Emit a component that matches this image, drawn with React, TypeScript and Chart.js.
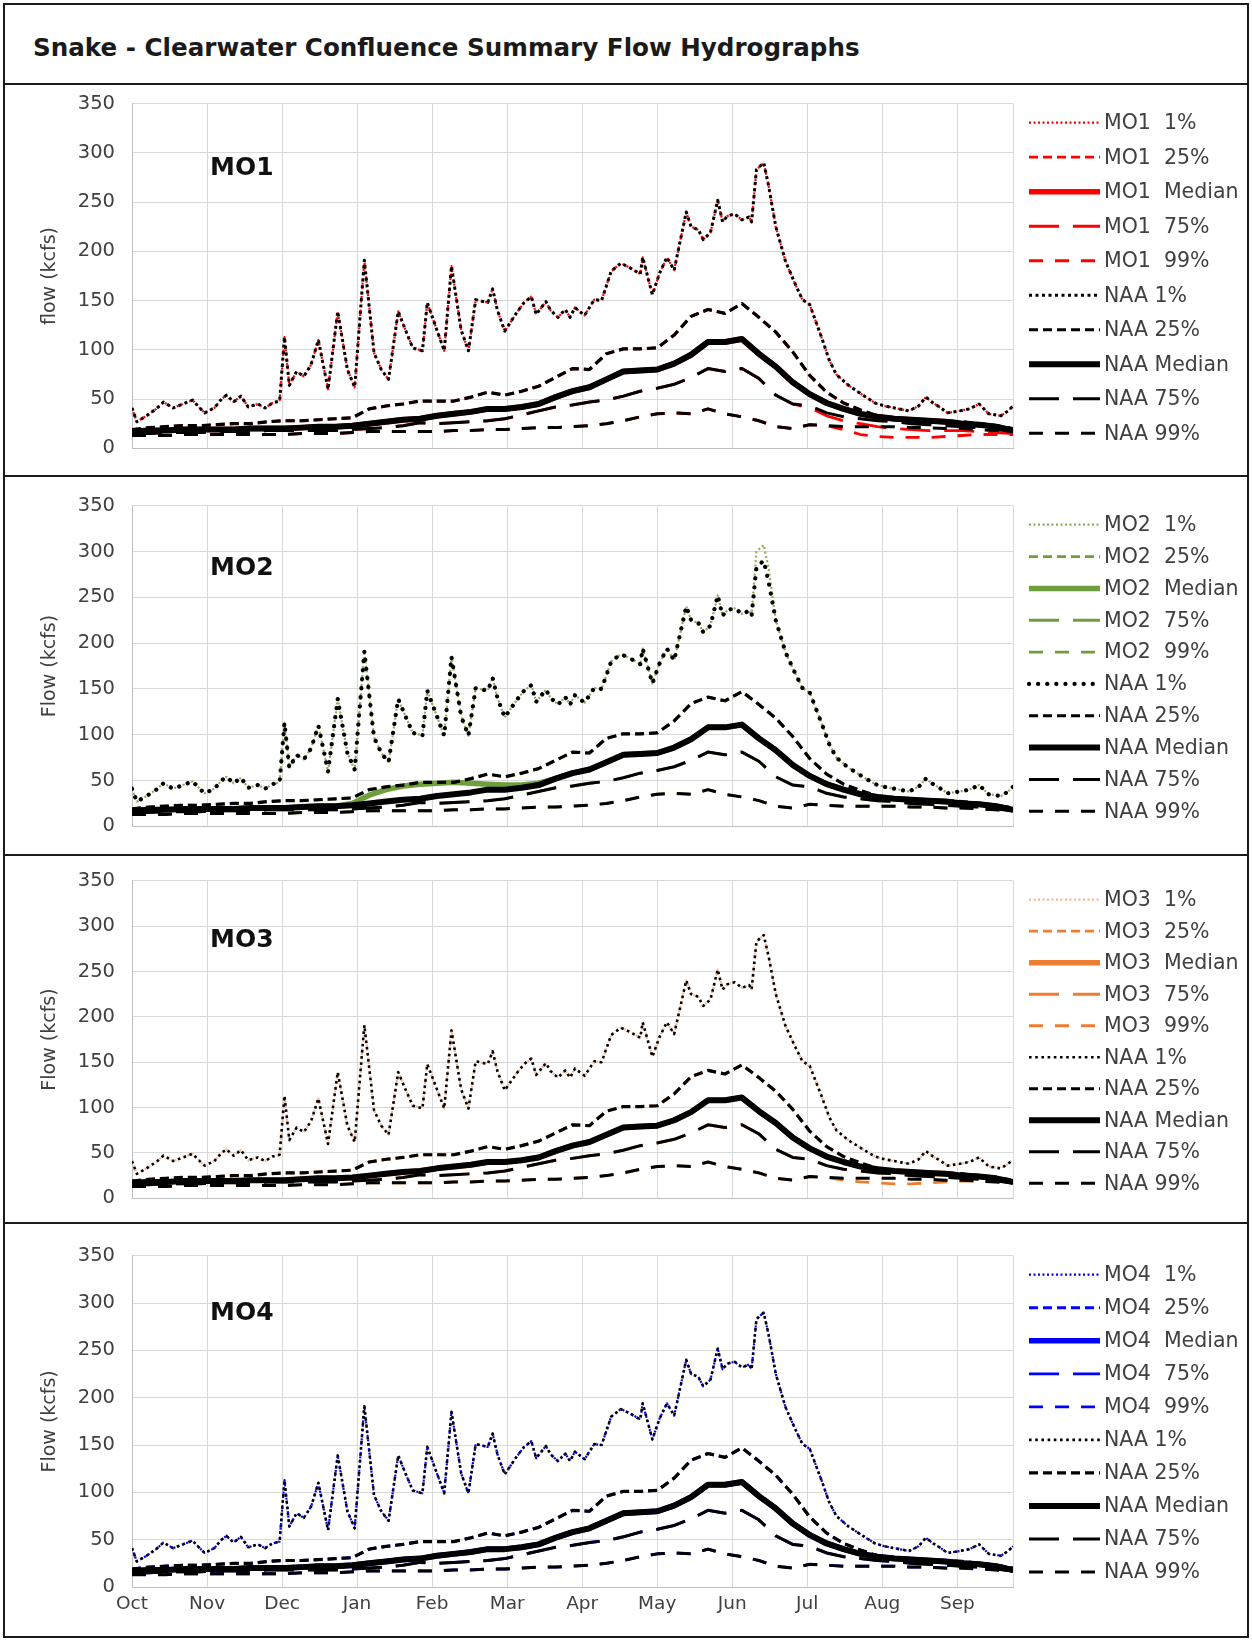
import React, { useEffect, useRef } from 'react';
import { Chart, registerables } from 'chart.js';

Chart.register(...registerables);

const FONT = '"DejaVu Sans", "Open Sans", sans-serif';
Chart.defaults.font.family = FONT;

// ---------- axis labels ----------
const monthLabels = ['Oct', 'Nov', 'Dec', 'Jan', 'Feb', 'Mar', 'Apr', 'May', 'Jun', 'Jul', 'Aug', 'Sep'];
const monthStartDays = [0, 31, 62, 93, 124, 155, 186, 217, 248, 279, 310, 341];
const yTickValues = [0, 50, 100, 150, 200, 250, 300, 350];

// ---------- weekly-sampled series (day index from Oct 1) ----------
const weekDays = [0, 7, 14, 21, 28, 35, 42, 49, 56, 63, 70, 77, 84, 91, 98, 105, 112, 119, 126, 133, 140, 147, 154, 161, 168, 175, 182, 189, 196, 203, 210, 217, 224, 231, 238, 245, 252, 259, 266, 273, 280, 287, 294, 301, 308, 315, 322, 329, 336, 343, 350, 357, 364];

const naaP25 = [19, 21, 22, 23, 23, 24, 25, 25, 27, 28, 28, 29, 30, 31, 40, 43, 45, 48, 48, 48, 52, 57, 54, 58, 63, 72, 81, 80, 96, 101, 101, 102, 115, 134, 141, 137, 147, 133, 118, 98, 74, 57, 46, 39, 33, 30, 29, 28, 28, 27, 25, 23, 20];
const naaMed = [17, 18, 18, 19, 19, 19, 19, 20, 20, 20, 21, 22, 22, 23, 25, 27, 29, 30, 33, 35, 37, 40, 40, 42, 45, 52, 58, 62, 70, 78, 79, 80, 86, 95, 108, 108, 111, 96, 83, 67, 55, 46, 40, 35, 32, 30, 29, 28, 27, 25, 24, 22, 18];
const naaP75 = [15, 15, 16, 16, 16, 17, 17, 17, 18, 18, 18, 18, 18, 19, 20, 21, 23, 26, 25, 26, 27, 28, 30, 34, 38, 42, 44, 47, 49, 53, 58, 61, 65, 72, 81, 78, 81, 71, 54, 45, 43, 36, 32, 30, 28, 27, 25, 24, 23, 22, 21, 19, 17];
const naaP99 = [13, 13, 13, 14, 14, 14, 14, 14, 14, 14, 15, 15, 15, 16, 17, 17, 17, 17, 17, 18, 18, 19, 19, 20, 21, 21, 22, 23, 25, 28, 32, 35, 36, 35, 40, 35, 32, 28, 22, 20, 24, 23, 22, 22, 22, 22, 21, 21, 20, 20, 19, 18, 17];

const mo1P75 = [15, 15, 16, 16, 16, 17, 17, 17, 18, 18, 18, 18, 18, 19, 20, 21, 23, 26, 25, 26, 27, 28, 30, 34, 38, 42, 44, 47, 49, 53, 58, 61, 65, 72, 81, 78, 81, 71, 54, 45, 41, 33, 28, 25, 22, 20, 19, 18, 18, 18, 17, 16, 15];
const mo1P99 = [13, 13, 13, 14, 14, 14, 14, 14, 14, 14, 15, 15, 15, 16, 17, 17, 17, 17, 17, 18, 18, 19, 19, 20, 21, 21, 22, 23, 25, 28, 32, 35, 36, 35, 40, 35, 32, 28, 22, 20, 24, 23, 19, 14, 12, 11, 11, 11, 12, 13, 14, 14, 14];
const mo2Med = [17, 18, 18, 19, 19, 19, 19, 20, 20, 20, 21, 22, 22, 25, 34, 40, 44, 46, 47, 48, 47, 46, 45, 45, 47, 52, 58, 62, 70, 78, 79, 80, 86, 95, 108, 108, 111, 96, 83, 67, 55, 46, 40, 35, 32, 30, 29, 28, 27, 25, 24, 22, 18];
const mo3P99 = [13, 13, 13, 14, 14, 14, 14, 14, 14, 14, 15, 15, 15, 16, 17, 17, 17, 17, 17, 18, 18, 19, 19, 20, 21, 21, 22, 23, 25, 28, 32, 35, 36, 35, 40, 35, 32, 28, 22, 20, 24, 23, 20, 18, 17, 16, 16, 17, 18, 19, 19, 18, 17];

// ---------- 1% exceedance series (irregular day samples) ----------
const p01Days = [0, 2, 6, 10, 13, 17, 21, 25, 28, 30, 34, 37, 39, 42, 45, 48, 52, 55, 58, 61, 63, 65, 68, 71, 74, 77, 81, 85, 89, 92, 96, 100, 103, 106, 110, 113, 116, 120, 122, 126, 129, 132, 136, 139, 142, 147, 149, 151, 154, 159, 162, 165, 167, 171, 173, 176, 179, 181, 183, 187, 191, 194, 198, 202, 206, 210, 211, 215, 218, 221, 224, 229, 231, 234, 236, 239, 242, 244, 246, 249, 252, 255, 256, 258, 261, 263, 266, 270, 274, 277, 280, 285, 288, 291, 296, 302, 307, 311, 315, 321, 325, 328, 331, 333, 337, 342, 346, 350, 354, 359, 362, 364];
const naaP01 = [41, 27, 33, 40, 47, 41, 45, 49, 41, 36, 41, 50, 54, 47, 53, 42, 45, 41, 46, 48, 113, 64, 78, 73, 85, 110, 60, 139, 80, 62, 191, 97, 80, 70, 139, 120, 102, 99, 148, 120, 99, 185, 120, 99, 151, 148, 162, 140, 119, 138, 148, 154, 136, 149, 140, 133, 141, 133, 143, 135, 151, 150, 180, 188, 183, 177, 194, 156, 178, 194, 181, 240, 225, 222, 212, 219, 252, 230, 236, 238, 232, 235, 230, 283, 290, 267, 225, 190, 167, 151, 146, 112, 90, 75, 64, 54, 46, 43, 41, 38, 43, 52, 46, 43, 36, 38, 40, 45, 35, 33, 38, 43];
const mo2P01 = [41, 27, 33, 40, 47, 41, 45, 49, 41, 36, 41, 50, 54, 47, 53, 42, 45, 41, 46, 48, 113, 64, 78, 73, 85, 110, 60, 139, 80, 62, 191, 97, 80, 70, 139, 120, 102, 99, 148, 120, 99, 185, 120, 99, 151, 148, 162, 140, 119, 138, 148, 154, 136, 149, 140, 133, 141, 133, 143, 135, 151, 150, 180, 188, 183, 177, 194, 156, 178, 194, 181, 240, 225, 222, 212, 219, 252, 230, 236, 238, 232, 235, 230, 300, 307, 282, 225, 190, 167, 151, 146, 112, 90, 75, 64, 54, 46, 43, 41, 38, 43, 52, 46, 43, 36, 38, 40, 45, 35, 33, 38, 43];

type Cap = 'butt' | 'round' | 'square';
interface SeriesDef {
  label: string;
  days: number[];
  values: number[];
  color: string;
  width: number;
  dash: number[];
  cap: Cap;
  naa: boolean;
}
interface NaaDot { width: number; dash: number[]; cap: Cap }
interface PanelDef {
  tag: string;
  yTitle: string;
  moColor: string;
  moDotColor: string;
  moP01: number[];
  moP25: number[];
  moMed: number[];
  moP75: number[];
  moP99: number[];
  naaDot: NaaDot;
  plotTop: number;
  plotBottom: number;
  tagDy: number;
  showX: boolean;
}

const panels: PanelDef[] = [
  {
    tag: 'MO1', yTitle: 'flow (kcfs)', moColor: '#ff0000', moDotColor: '#ff0000',
    moP01: naaP01, moP25: naaP25, moMed: naaMed, moP75: mo1P75, moP99: mo1P99,
    naaDot: { width: 3, dash: [3, 3.5], cap: 'butt' },
    plotTop: 95, plotBottom: 457, tagDy: 65, showX: false,
  },
  {
    tag: 'MO2', yTitle: 'Flow (kcfs)', moColor: '#6f9f3c', moDotColor: '#8aae55',
    moP01: mo2P01, moP25: naaP25, moMed: mo2Med, moP75: naaP75, moP99: naaP99,
    naaDot: { width: 4.2, dash: [0.1, 9], cap: 'round' },
    plotTop: 497, plotBottom: 835, tagDy: 63, showX: false,
  },
  {
    tag: 'MO3', yTitle: 'Flow (kcfs)', moColor: '#ed7d31', moDotColor: '#f6b896',
    moP01: naaP01, moP25: naaP25, moMed: naaMed, moP75: naaP75, moP99: mo3P99,
    naaDot: { width: 2.6, dash: [2.6, 3.6], cap: 'butt' },
    plotTop: 872, plotBottom: 1207, tagDy: 60, showX: false,
  },
  {
    tag: 'MO4', yTitle: 'Flow (kcfs)', moColor: '#0000ff', moDotColor: '#0000ff',
    moP01: naaP01, moP25: naaP25, moMed: naaMed, moP75: naaP75, moP99: naaP99,
    naaDot: { width: 2.6, dash: [2.6, 3.6], cap: 'butt' },
    plotTop: 1247, plotBottom: 1587, tagDy: 58, showX: true,
  },
];

function makeSeries(p: PanelDef): SeriesDef[] {
  return [
    { label: `${p.tag}  1%`, days: p01Days, values: p.moP01, color: p.moDotColor, width: 2.2, dash: [2, 2.5], cap: 'butt', naa: false },
    { label: `${p.tag}  25%`, days: weekDays, values: p.moP25, color: p.moColor, width: 2.8, dash: [9, 5], cap: 'butt', naa: false },
    { label: `${p.tag}  Median`, days: weekDays, values: p.moMed, color: p.moColor, width: 5.5, dash: [], cap: 'butt', naa: false },
    { label: `${p.tag}  75%`, days: weekDays, values: p.moP75, color: p.moColor, width: 2.8, dash: [30, 14], cap: 'butt', naa: false },
    { label: `${p.tag}  99%`, days: weekDays, values: p.moP99, color: p.moColor, width: 2.8, dash: [14, 12], cap: 'butt', naa: false },
    { label: 'NAA 1%', days: p01Days, values: naaP01, color: '#000000', width: p.naaDot.width, dash: p.naaDot.dash, cap: p.naaDot.cap, naa: true },
    { label: 'NAA 25%', days: weekDays, values: naaP25, color: '#000000', width: 3.2, dash: [9, 5], cap: 'butt', naa: true },
    { label: 'NAA Median', days: weekDays, values: naaMed, color: '#000000', width: 6, dash: [], cap: 'butt', naa: true },
    { label: 'NAA 75%', days: weekDays, values: naaP75, color: '#000000', width: 3, dash: [30, 14], cap: 'butt', naa: true },
    { label: 'NAA 99%', days: weekDays, values: naaP99, color: '#000000', width: 3, dash: [14, 12], cap: 'butt', naa: true },
  ];
}

const CANVAS_LEFT = 4;
const CANVAS_W = 1244;
const PLOT_LEFT = 128; // in canvas coords -> page 132
const RIGHT_PAD = 235; // plot right -> page 1013
const PAD = 20;
const XAXIS_H = 49;

function PanelChart({ p }: { p: PanelDef }) {
  const ref = useRef<HTMLCanvasElement>(null);
  const canvasTop = p.plotTop - PAD;
  const height = p.plotBottom - p.plotTop + PAD + (p.showX ? XAXIS_H : PAD);

  useEffect(() => {
    const canvas = ref.current;
    if (!canvas) return;
    const series = makeSeries(p);

    const decor = {
      id: 'decor' + p.tag,
      afterDraw(chart: Chart) {
        const { ctx, chartArea } = chart;
        ctx.save();
        ctx.font = `bold 25px ${FONT}`;
        ctx.fillStyle = '#111111';
        ctx.textAlign = 'left';
        ctx.textBaseline = 'middle';
        ctx.fillText(p.tag, chartArea.left + 78, chartArea.top + p.tagDy);

        const x0 = chartArea.right + 16;
        const yA = chartArea.top + 19;
        const yB = chartArea.bottom - 15;
        series.forEach((s, i) => {
          const y = yA + ((yB - yA) * i) / (series.length - 1);
          ctx.beginPath();
          ctx.strokeStyle = s.color;
          ctx.lineWidth = s.width;
          ctx.lineCap = s.cap;
          ctx.setLineDash(s.dash);
          ctx.moveTo(x0, y);
          ctx.lineTo(x0 + 71, y);
          ctx.stroke();
          ctx.setLineDash([]);
          ctx.font = `20.5px ${FONT}`;
          ctx.fillStyle = '#404040';
          ctx.fillText(s.label, x0 + 75, y + 1);
        });
        ctx.restore();
      },
    };

    const chart = new Chart(canvas, {
      type: 'line',
      data: {
        datasets: series.map((s) => ({
          label: s.label,
          data: s.days.map((d, i) => ({ x: d, y: s.values[i] })),
          borderColor: s.color,
          backgroundColor: s.color,
          borderWidth: s.width,
          borderDash: s.dash,
          borderCapStyle: s.cap,
          borderJoinStyle: 'round',
          pointRadius: 0,
          tension: 0,
          fill: false,
          order: s.naa ? 0 : 1,
        })),
      },
      options: {
        responsive: false,
        animation: false,
        events: [],
        layout: { padding: { left: 0, right: RIGHT_PAD, top: PAD, bottom: p.showX ? 0 : PAD } },
        plugins: { legend: { display: false }, tooltip: { enabled: false } },
        scales: {
          x: {
            type: 'linear',
            min: 0,
            max: 364,
            afterBuildTicks: (scale: any) => {
              scale.ticks = [...monthStartDays.map((v) => ({ value: v })), { value: 364 }];
            },
            afterFit: (scale: any) => {
              scale.height = p.showX ? XAXIS_H : 0;
            },
            ticks: {
              display: p.showX,
              autoSkip: false,
              maxRotation: 0,
              padding: 6,
              color: '#404040',
              font: { size: 18.5 },
              callback: (v: any) => {
                const i = monthStartDays.indexOf(Number(v));
                return i >= 0 ? monthLabels[i] : '';
              },
            },
            grid: { color: '#d9d9d9', lineWidth: 1, drawTicks: false },
            border: { color: '#bfbfbf', width: 1 },
          },
          y: {
            min: 0,
            max: 350,
            afterBuildTicks: (scale: any) => {
              scale.ticks = yTickValues.map((v) => ({ value: v }));
            },
            afterFit: (scale: any) => {
              scale.width = PLOT_LEFT;
            },
            ticks: { padding: 17, color: '#404040', font: { size: 19.5 } },
            grid: { color: '#d9d9d9', lineWidth: 1, drawTicks: false },
            border: { color: '#bfbfbf', width: 1 },
            title: {
              display: true,
              text: p.yTitle,
              color: '#404040',
              font: { size: 19 },
              padding: { top: 35, bottom: 0 },
            },
          },
        },
      },
      plugins: [decor],
    } as any);
    return () => chart.destroy();
  }, []);

  return (
    <canvas
      ref={ref}
      width={CANVAS_W}
      height={height}
      style={{ position: 'absolute', left: CANVAS_LEFT, top: canvasTop, width: CANVAS_W, height, zIndex: 1 }}
    />
  );
}

const dividerTops = [83, 475, 854, 1222];

export default function App() {
  return (
    <div style={{ position: 'absolute', left: 0, top: 0, width: 1252, height: 1641, background: '#ffffff', overflow: 'hidden' }}>
      <div
        style={{
          position: 'absolute', left: 33, top: 33, height: 30, lineHeight: '30px',
          font: `bold 24.6px ${FONT}`, color: '#1a1a1a', whiteSpace: 'nowrap', zIndex: 3,
        }}
      >
        Snake - Clearwater Confluence Summary Flow Hydrographs
      </div>
      {panels.map((p) => (
        <PanelChart key={p.tag} p={p} />
      ))}
      {dividerTops.map((t) => (
        <div key={t} style={{ position: 'absolute', left: 3, top: t, width: 1246, height: 2, background: '#1a1a1a', zIndex: 3 }} />
      ))}
      <div
        style={{
          position: 'absolute', left: 3, top: 3, width: 1246, height: 1635, boxSizing: 'border-box',
          border: '2px solid #1a1a1a', zIndex: 3, pointerEvents: 'none',
        }}
      />
    </div>
  );
}
